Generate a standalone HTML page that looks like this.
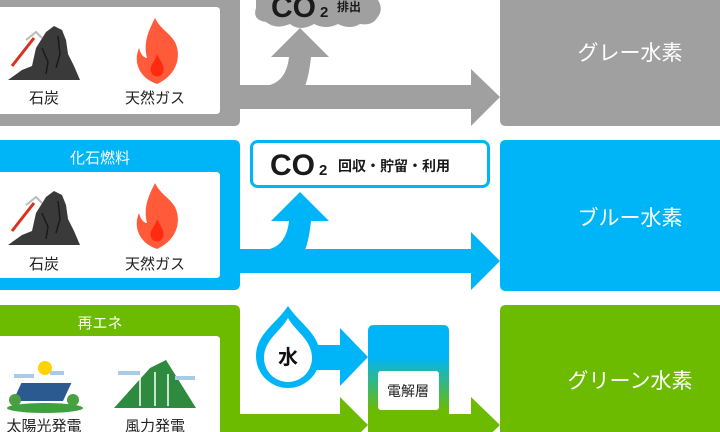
<!DOCTYPE html>
<html><head><meta charset="utf-8"><style>
html,body{margin:0;padding:0;background:#fff;width:720px;height:432px;overflow:hidden}
svg{display:block}
text{font-family:"Liberation Sans","Noto Sans CJK JP",sans-serif}
</style></head><body>
<svg width="720" height="432" viewBox="0 0 720 432" xmlns="http://www.w3.org/2000/svg">
<defs>
<linearGradient id="eg" x1="0" y1="0" x2="0" y2="1">
<stop offset="0.3" stop-color="#00b4f8"/><stop offset="0.8" stop-color="#6cbb00"/>
</linearGradient>
<g id="coal">
<path d="M6 62 L20 52 L30 48 L34 30 L44 14 L52 8 L60 12 L64 22 L66 36 L72 48 L78 62 Z" fill="#3a3a3a"/>
<path d="M40 30 L46 44 L44 56 M56 18 L58 36 L54 50" stroke="#1a1a1a" stroke-width="1.5" fill="none"/>
<line x1="10" y1="48" x2="32" y2="20" stroke="#d8321e" stroke-width="3"/>
<path d="M24 22 L34 14 L40 20" stroke="#bbb" stroke-width="2" fill="none"/>
</g>
<g id="flame">
<path d="M20 0 C26 12 34 14 40 24 C46 36 44 56 22 66 C4 60 -2 44 4 30 C6 38 10 40 12 40 C8 24 14 12 20 0 Z" fill="#ff5a3a"/>
<path d="M22 36 C26 44 30 48 28 54 C26 60 18 60 16 54 C14 48 20 44 22 36 Z" fill="#ff2a10"/>
</g>
</defs>

<!-- GRAY -->
<path d="M0 0 H240 V120 Q240 126 234 126 H0 Z" fill="#a0a0a0"/>
<path d="M0 7 H216 Q220 7 220 11 V110 Q220 114 216 114 H0 Z" fill="#fff"/>
<use href="#coal" x="2" y="18"/>
<use href="#flame" x="135" y="18"/>
<text x="44" y="103" font-size="15" text-anchor="middle" fill="#222">石炭</text>
<text x="155" y="103" font-size="15" text-anchor="middle" fill="#222">天然ガス</text>
<path d="M240 85 H471 V69 L500 97 L471 126 V109 H240 Z" fill="#a0a0a0"/>
<path d="M264 86 Q286 84 289 57 H271 L300 28 L329 57 H311 Q309 76 305 86 Z" fill="#a0a0a0"/>
<path d="M256 0 H378 Q384 10 377 18 Q372 26 360 24 Q350 30 338 24 Q326 30 314 24 Q300 32 290 24 Q276 30 266 22 Q252 20 256 8 Z" fill="#a0a0a0"/>
<text x="271" y="17" font-size="30" font-weight="bold" fill="#1a1a1a">CO</text>
<text x="320" y="17" font-size="15" font-weight="bold" fill="#1a1a1a">2</text>
<text x="337" y="11" font-size="12" font-weight="bold" fill="#1a1a1a">排出</text>
<path d="M506 0 H720 V126 H506 Q500 126 500 120 V0 Z" fill="#a0a0a0"/>
<text x="630" y="60" font-size="21" text-anchor="middle" fill="#fff">グレー水素</text>

<!-- BLUE -->
<path d="M0 140 H234 Q240 140 240 146 V284 Q240 290 234 290 H0 Z" fill="#00b4f8"/>
<text x="100" y="163" font-size="15" text-anchor="middle" fill="#fff">化石燃料</text>
<path d="M0 172 H216 Q220 172 220 176 V274 Q220 278 216 278 H0 Z" fill="#fff"/>
<use href="#coal" x="2" y="183"/>
<use href="#flame" x="135" y="183"/>
<text x="44" y="269" font-size="15" text-anchor="middle" fill="#222">石炭</text>
<text x="155" y="269" font-size="15" text-anchor="middle" fill="#222">天然ガス</text>
<path d="M240 249 H471 V232 L500 261 L471 290 V273 H240 Z" fill="#00b4f8"/>
<path d="M264 250 Q286 248 289 221 H271 L300 192 L329 221 H311 Q309 240 305 250 Z" fill="#00b4f8"/>
<rect x="251.5" y="141.5" width="237" height="45" rx="6" fill="#fff" stroke="#00b4f8" stroke-width="3"/>
<text x="270" y="175" font-size="30" font-weight="bold" fill="#1a1a1a">CO</text>
<text x="319" y="175" font-size="15" font-weight="bold" fill="#1a1a1a">2</text>
<text x="338" y="171" font-size="14" font-weight="bold" fill="#1a1a1a">回収・貯留・利用</text>
<path d="M506 140 H720 V291 H506 Q500 291 500 285 V146 Q500 140 506 140 Z" fill="#00b4f8"/>
<text x="630" y="225" font-size="21" text-anchor="middle" fill="#fff">ブルー水素</text>

<!-- GREEN -->
<path d="M0 305 H234 Q240 305 240 311 V432 H0 Z" fill="#6cbb00"/>
<text x="100" y="328" font-size="15" text-anchor="middle" fill="#fff">再エネ</text>
<path d="M0 336 H216 Q220 336 220 340 V432 H0 Z" fill="#fff"/>
<ellipse cx="45" cy="408" rx="38" ry="5" fill="#3fa040"/>
<circle cx="45" cy="368" r="7" fill="#ffd200"/>
<rect x="20" y="383" width="50" height="18" fill="#2a5a90" transform="skewX(-25) translate(180 0)"/>
<circle cx="15" cy="400" r="6" fill="#4aa040"/><circle cx="73" cy="400" r="6" fill="#4aa040"/>
<path d="M14 376 h20 M50 373 h14" stroke="#a8cce8" stroke-width="4"/>
<path d="M114 408 L150 368 L166 360 L196 408 Z" fill="#2e8a3e"/>
<path d="M140 376 v30 M155 372 v34 M168 374 v32" stroke="#fff" stroke-width="1.5"/>
<path d="M118 373 h22 M175 378 h20" stroke="#a8cce8" stroke-width="4"/>
<text x="44" y="431" font-size="15" text-anchor="middle" fill="#222">太陽光発電</text>
<text x="155" y="431" font-size="15" text-anchor="middle" fill="#222">風力発電</text>
<path d="M240 414 H340 V397 L368 425 L340 453 V432 H240 Z" fill="#6cbb00"/>
<path d="M448 414 H471 V397 L500 425 L471 453 V432 H448 Z" fill="#6cbb00"/>
<path d="M300 345 H340 V328 L368 357 L340 386 V370 H300 Z" fill="#00b4f8"/>
<path d="M288 306 C300 324 320 334 320 356 A32 32 0 0 1 256 356 C256 334 276 324 288 306 Z" fill="#00b4f8"/>
<path d="M288 318 C296 332 312 340 312 358 A24 24 0 0 1 264 358 C264 340 280 332 288 318 Z" fill="#fff"/>
<text x="288" y="364" font-size="20" font-weight="bold" text-anchor="middle" fill="#111">水</text>
<path d="M374 325 H443 Q449 325 449 331 V432 H368 V331 Q368 325 374 325 Z" fill="url(#eg)"/>
<rect x="378" y="371" width="61" height="39" rx="3" fill="#fff"/>
<text x="408" y="396" font-size="14" text-anchor="middle" fill="#222">電解層</text>
<path d="M506 305 H720 V432 H500 V311 Q500 305 506 305 Z" fill="#6cbb00"/>
<text x="630" y="388" font-size="21" text-anchor="middle" fill="#fff">グリーン水素</text>
</svg>
</body></html>
